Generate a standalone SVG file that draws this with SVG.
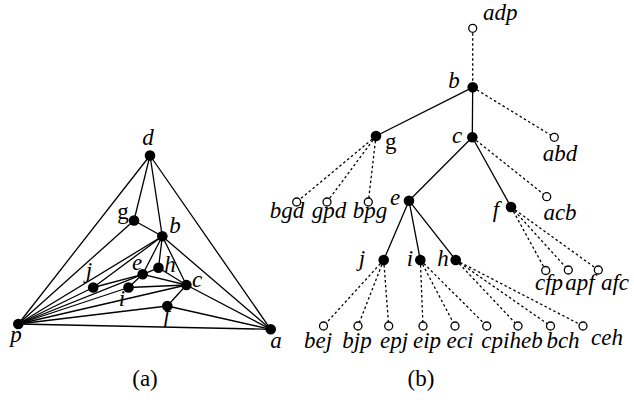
<svg xmlns="http://www.w3.org/2000/svg" width="634" height="403" viewBox="0 0 634 403">
<style>
.e{stroke:#000;stroke-width:1.3;fill:none;stroke-linecap:round}
.d{stroke:#000;stroke-width:1.3;fill:none;stroke-dasharray:2.5 2.5}
.n{fill:#000}
.o{fill:#fff;stroke:#000;stroke-width:1.3}
text{font-family:"Liberation Serif","Times New Roman",serif;font-size:23px;font-style:italic;fill:#000}
.r{font-style:normal}
.m{text-anchor:middle}
</style>
<rect width="634" height="403" fill="#fff"/>
<g id="edges-a">
<line class="e" x1="18.3" y1="324" x2="150" y2="155.5"/>
<line class="e" x1="150" y1="155.5" x2="270.7" y2="329.3"/>
<line class="e" x1="18.3" y1="324" x2="270.7" y2="329.3"/>
<line class="e" x1="150" y1="155.5" x2="134" y2="220.5"/>
<line class="e" x1="150" y1="155.5" x2="162.3" y2="236.3"/>
<line class="e" x1="134" y1="220.5" x2="162.3" y2="236.3"/>
<line class="e" x1="134" y1="220.5" x2="18.3" y2="324"/>
<line class="e" x1="162.3" y1="236.3" x2="270.7" y2="329.3"/>
<line class="e" x1="162.3" y1="236.3" x2="186.4" y2="285"/>
<line class="e" x1="162.3" y1="236.3" x2="142.7" y2="274.3"/>
<line class="e" x1="162.3" y1="236.3" x2="158.5" y2="267.8"/>
<line class="e" x1="162.3" y1="236.3" x2="18.3" y2="324"/>
<line class="e" x1="162.3" y1="236.3" x2="93.2" y2="287.5"/>
<line class="e" x1="93.2" y1="287.5" x2="142.7" y2="274.3"/>
<line class="e" x1="18.3" y1="324" x2="93.2" y2="287.5"/>
<line class="e" x1="18.3" y1="324" x2="142.7" y2="274.3"/>
<line class="e" x1="18.3" y1="324" x2="128.5" y2="287.5"/>
<line class="e" x1="18.3" y1="324" x2="186.4" y2="285"/>
<line class="e" x1="18.3" y1="324" x2="167.3" y2="306"/>
<line class="e" x1="142.7" y1="274.3" x2="158.5" y2="267.8"/>
<line class="e" x1="142.7" y1="274.3" x2="186.4" y2="285"/>
<line class="e" x1="142.7" y1="274.3" x2="128.5" y2="287.5"/>
<line class="e" x1="158.5" y1="267.8" x2="186.4" y2="285"/>
<line class="e" x1="128.5" y1="287.5" x2="186.4" y2="285"/>
<line class="e" x1="186.4" y1="285" x2="167.3" y2="306"/>
<line class="e" x1="186.4" y1="285" x2="270.7" y2="329.3"/>
<line class="e" x1="167.3" y1="306" x2="270.7" y2="329.3"/>
</g>
<g id="edges-b">
<line class="d" x1="472.7" y1="28.3" x2="472.7" y2="87.3"/>
<line class="e" x1="472.7" y1="87.3" x2="376" y2="136"/>
<line class="e" x1="472.7" y1="87.3" x2="472.3" y2="137.3"/>
<line class="d" x1="472.7" y1="87.3" x2="554.3" y2="137.3"/>
<line class="d" x1="376" y1="136" x2="296.7" y2="202"/>
<line class="d" x1="376" y1="136" x2="327" y2="202"/>
<line class="d" x1="376" y1="136" x2="368.3" y2="202"/>
<line class="e" x1="472.3" y1="137.3" x2="409" y2="200.7"/>
<line class="e" x1="472.3" y1="137.3" x2="511" y2="207"/>
<line class="d" x1="472.3" y1="137.3" x2="546.7" y2="196.7"/>
<line class="e" x1="409" y1="200.7" x2="383.7" y2="260"/>
<line class="e" x1="409" y1="200.7" x2="420.3" y2="260"/>
<line class="e" x1="409" y1="200.7" x2="455.7" y2="260"/>
<line class="d" x1="511" y1="207" x2="545.7" y2="270.5"/>
<line class="d" x1="511" y1="207" x2="568.3" y2="270"/>
<line class="d" x1="511" y1="207" x2="598.3" y2="270"/>
<line class="d" x1="383.7" y1="260" x2="323.5" y2="326"/>
<line class="d" x1="383.7" y1="260" x2="358" y2="326"/>
<line class="d" x1="383.7" y1="260" x2="388.7" y2="326"/>
<line class="d" x1="420.3" y1="260" x2="423" y2="326"/>
<line class="d" x1="420.3" y1="260" x2="455" y2="326"/>
<line class="d" x1="420.3" y1="260" x2="486.7" y2="326"/>
<line class="d" x1="455.7" y1="260" x2="518" y2="326"/>
<line class="d" x1="455.7" y1="260" x2="550.5" y2="326"/>
<line class="d" x1="455.7" y1="260" x2="583" y2="326"/>
</g>
<g id="a-d"><circle class="n" cx="150" cy="155.5" r="5.3"/><text class="m" x="148" y="145">d</text></g>
<g id="a-g"><circle class="n" cx="134" cy="220.5" r="5.3"/><text class="m r" x="123" y="219">g</text></g>
<g id="a-b"><circle class="n" cx="162.3" cy="236.3" r="5.3"/><text class="m" x="175" y="233">b</text></g>
<g id="a-h"><circle class="n" cx="158.5" cy="267.8" r="5.3"/><text class="m" x="170" y="272">h</text></g>
<g id="a-e"><circle class="n" cx="142.7" cy="274.3" r="5.3"/><text class="m" x="137" y="270">e</text></g>
<g id="a-j"><circle class="n" cx="93.2" cy="287.5" r="5.3"/><text class="m" x="89" y="278">j</text></g>
<g id="a-i"><circle class="n" cx="128.5" cy="287.5" r="5.3"/><text class="m" x="122" y="306">i</text></g>
<g id="a-c"><circle class="n" cx="186.4" cy="285" r="5.3"/><text class="m" x="197" y="287">c</text></g>
<g id="a-f"><circle class="n" cx="167.3" cy="306" r="5.3"/><text class="m" x="167" y="322">f</text></g>
<g id="a-p"><circle class="n" cx="18.3" cy="324" r="5.3"/><text class="m" x="16" y="342">p</text></g>
<g id="a-a"><circle class="n" cx="270.7" cy="329.3" r="5.3"/><text class="m" x="276" y="348">a</text></g>
<text class="m r" x="145" y="386">(a)</text>
<g id="t-adp"><circle class="o" cx="472.7" cy="28.3" r="4"/><text x="483" y="20">adp</text></g>
<g id="t-b"><circle class="n" cx="472.7" cy="87.3" r="5.3"/><text class="m" x="454" y="88">b</text></g>
<g id="t-g"><circle class="n" cx="376" cy="136" r="5.3"/><text class="r" x="385" y="149">g</text></g>
<g id="t-c"><circle class="n" cx="472.3" cy="137.3" r="5.3"/><text class="m" x="457" y="143">c</text></g>
<g id="t-abd"><circle class="o" cx="554.3" cy="137.3" r="4"/><text class="m" x="560" y="161">abd</text></g>
<g id="t-e"><circle class="n" cx="409" cy="200.7" r="5.3"/><text class="m" x="395" y="205">e</text></g>
<g id="t-f"><circle class="n" cx="511" cy="207" r="5.3"/><text class="m" x="496" y="217">f</text></g>
<g id="t-acb"><circle class="o" cx="546.7" cy="196.7" r="4"/><text class="m" x="560" y="220">acb</text></g>
<g id="t-bgd"><circle class="o" cx="296.7" cy="202" r="4"/><text class="m" x="287" y="218">bgd</text></g>
<g id="t-gpd"><circle class="o" cx="327" cy="202" r="4"/><text class="m" x="329" y="218">gpd</text></g>
<g id="t-bpg"><circle class="o" cx="368.3" cy="202" r="4"/><text class="m" x="370" y="218">bpg</text></g>
<g id="t-j"><circle class="n" cx="383.7" cy="260" r="5.3"/><text class="m" x="362" y="266">j</text></g>
<g id="t-i"><circle class="n" cx="420.3" cy="260" r="5.3"/><text class="m" x="410" y="266">i</text></g>
<g id="t-h"><circle class="n" cx="455.7" cy="260" r="5.3"/><text class="m" x="443" y="266">h</text></g>
<g id="t-cfp"><circle class="o" cx="545.7" cy="270.5" r="4"/><text class="m" x="549" y="290">cfp</text></g>
<g id="t-apf"><circle class="o" cx="568.3" cy="270" r="4"/><text class="m" x="580" y="290">apf</text></g>
<g id="t-afc"><circle class="o" cx="598.3" cy="270" r="4"/><text class="m" x="615" y="290">afc</text></g>
<g id="t-bej"><circle class="o" cx="323.5" cy="326" r="4"/><text class="m" x="318" y="348">bej</text></g>
<g id="t-bjp"><circle class="o" cx="358" cy="326" r="4"/><text class="m" x="357" y="348">bjp</text></g>
<g id="t-epj"><circle class="o" cx="388.7" cy="326" r="4"/><text class="m" x="394" y="348">epj</text></g>
<g id="t-eip"><circle class="o" cx="423" cy="326" r="4"/><text class="m" x="427" y="348">eip</text></g>
<g id="t-eci"><circle class="o" cx="455" cy="326" r="4"/><text class="m" x="460" y="348">eci</text></g>
<g id="t-cpi"><circle class="o" cx="486.7" cy="326" r="4"/></g>
<g id="t-heb"><circle class="o" cx="518" cy="326" r="4"/></g>
<text class="m" x="512" y="348">cpiheb</text>
<g id="t-bch"><circle class="o" cx="550.5" cy="326" r="4"/><text class="m" x="563" y="348">bch</text></g>
<g id="t-ceh"><circle class="o" cx="583" cy="326" r="4"/><text class="m" x="607" y="345">ceh</text></g>
<text class="m r" x="421" y="386">(b)</text>
</svg>
